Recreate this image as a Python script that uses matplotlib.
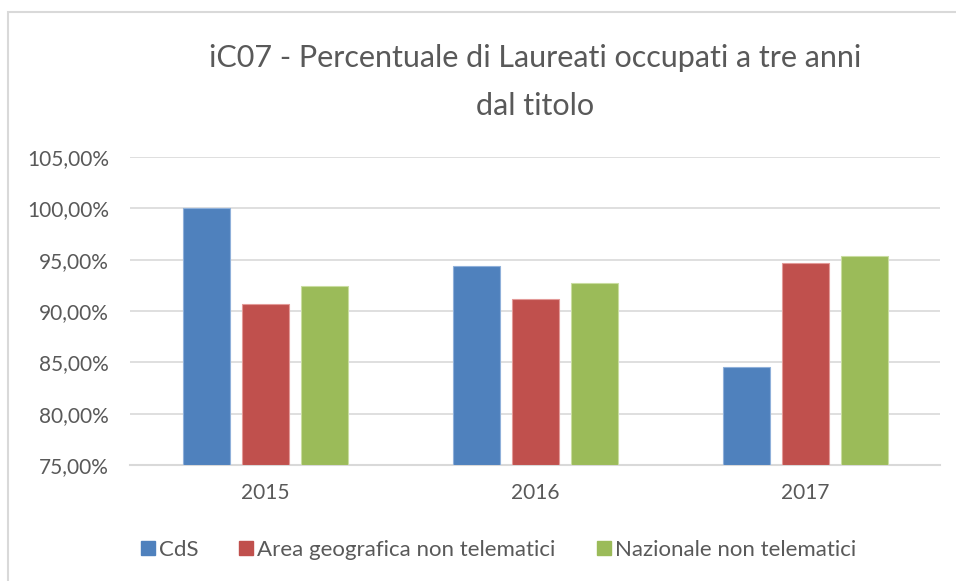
import matplotlib
matplotlib.use("Agg")
import matplotlib.pyplot as plt
from matplotlib.lines import Line2D
import numpy as np

plt.rcParams['font.family'] = ['Lato', 'DejaVu Sans']

years = ["2015", "2016", "2017"]
series_names = ["CdS", "Area geografica non telematici", "Nazionale non telematici"]
cds = [100.0, 94.42, 84.54]
area = [90.71, 91.17, 94.68]
nazionale = [92.39, 92.75, 95.32]
colors = ["#4F81BD", "#C0504D", "#9BBB59"]
edge_colors = ["#8FB0DA", "#E39A98", "#C9DDA0"]
yticks = [75, 80, 85, 90, 95, 100, 105]
title_lines = ["iC07 - Percentuale di Laureati occupati a tre anni", "dal titolo"]

W, H = 956, 581
fig = plt.figure(figsize=(W / 100, H / 100), dpi=100)
ax = fig.add_axes([130 / W, 1 - 465 / H, 810 / W, 308 / H])

x = np.arange(len(years))
width = 47 / 270
step = 59 / 270
for i, (vals, c, ec) in enumerate(zip([cds, area, nazionale], colors, edge_colors)):
    ax.bar(x + (i - 1) * step, np.array(vals) - 75, bottom=75, width=width,
           color=c, edgecolor=ec, linewidth=0.8, zorder=3, label=series_names[i])

ax.set_xlim(-0.5, 2.5)
ax.set_ylim(75, 105)
ax.set_yticks(yticks)
ax.set_yticklabels([f"{v:.2f}%".replace(".", ",") for v in yticks])
ax.set_xticks(x)
ax.set_xticklabels(years)
ax.tick_params(axis='both', length=0, labelsize=15, colors="#595959")
ax.tick_params(axis='y', pad=15)
ax.tick_params(axis='x', pad=13)
ax.grid(axis='y', color="#D9D9D9", linewidth=1.2, zorder=0)
for s in ["top", "right", "left"]:
    ax.spines[s].set_visible(False)
ax.spines["bottom"].set_color("#D9D9D9")
ax.spines["bottom"].set_linewidth(1.5)

fig.text(535 / W, 1 - 67 / H, title_lines[0], ha="center", va="baseline",
         fontsize=22, color="#595959")
fig.text(535 / W, 1 - 115 / H, title_lines[1], ha="center", va="baseline",
         fontsize=22, color="#595959")

handles = [Line2D([0], [0], marker="s", linestyle="none", markersize=9.4,
                  markerfacecolor=c, markeredgecolor=c) for c in colors]
fig.legend(handles, series_names, loc="center", bbox_to_anchor=(498 / W, 1 - 550 / H),
           ncol=3, frameon=False, fontsize=16, labelcolor="#595959",
           handletextpad=0.15, columnspacing=1.8, handlelength=0.7)

# outer chart border
fig.add_artist(plt.Rectangle((8 / W, -0.1), 1.2, (H - 12) / H + 0.1,
                             transform=fig.transFigure, fill=False,
                             edgecolor="#D9D9D9", linewidth=1.5))

fig.savefig("out.png", dpi=100, facecolor="white")
